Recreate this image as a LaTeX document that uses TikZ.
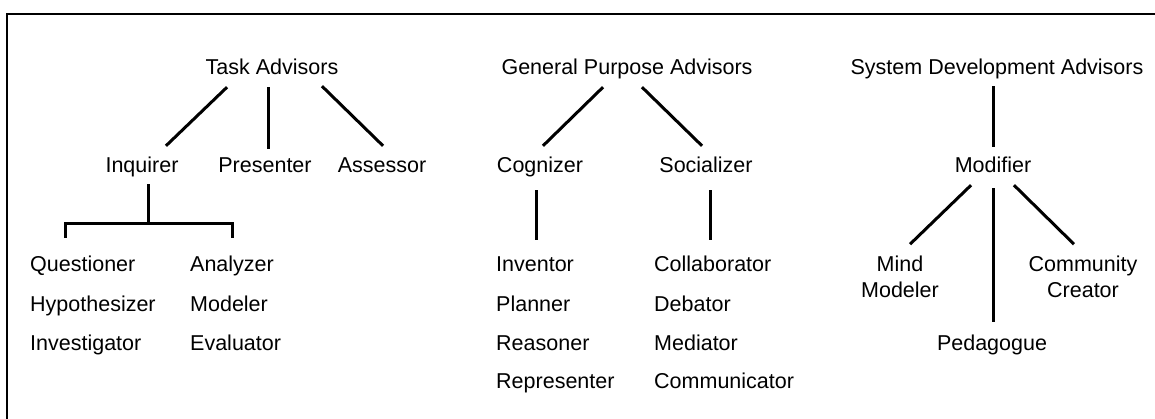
\documentclass[tikz,border=0pt]{standalone}
\usepackage{fontspec}
\setmainfont{Liberation Sans}
\begin{document}
\begin{tikzpicture}[x=1pt,y=-1pt,
  lbl/.style={inner sep=0pt, text height=15pt, text depth=5pt, font=\fontsize{21.5pt}{26pt}\selectfont},
  lbl2/.style={inner sep=0pt, align=center, font=\fontsize{21.5pt}{26pt}\selectfont},
  link/.style={line width=3pt},
  frame/.style={line width=2.2pt}]
\useasboundingbox (0,0) rectangle (1155,419);
\draw[frame] (7,421) -- (7,14) -- (1157,14);

% level 1
\node[lbl,anchor=base] (ta) at (272,75) {Task Advisors};
\node[lbl,anchor=base] (gpa) at (627,75) {General Purpose Advisors};
\node[lbl,anchor=base] (sda) at (997,75) {System Development Advisors};
% level 2
\node[lbl,anchor=base] (inq) at (142,173) {Inquirer};
\node[lbl,anchor=base] (pre) at (265,173) {Presenter};
\node[lbl,anchor=base] (ass) at (382,173) {Assessor};
\node[lbl,anchor=base] (cog) at (540,173) {Cognizer};
\node[lbl,anchor=base] (soc) at (706,173) {Socializer};
\node[lbl,anchor=base] (mod) at (993,173) {Modifier};
% lists
\node[lbl,anchor=base west] (q1) at (30,272) {Questioner};
\node[lbl,anchor=base west] (q2) at (30,311) {Hypothesizer};
\node[lbl,anchor=base west] (q3) at (30,350) {Investigator};
\node[lbl,anchor=base west] (an) at (190,272) {Analyzer};
\node[lbl,anchor=base west] (an2) at (190,311) {Modeler};
\node[lbl,anchor=base west] (an3) at (190,350) {Evaluator};
\node[lbl,anchor=base west] (inv) at (496,272) {Inventor};
\node[lbl,anchor=base west] (pla) at (496,311) {Planner};
\node[lbl,anchor=base west] (rea) at (496,350) {Reasoner};
\node[lbl,anchor=base west] (rep) at (496,388) {Representer};
\node[lbl,anchor=base west] (col) at (654,272) {Collaborator};
\node[lbl,anchor=base west] (deb) at (654,311) {Debator};
\node[lbl,anchor=base west] (med) at (654,350) {Mediator};
\node[lbl,anchor=base west] (com) at (654,388) {Communicator};
\node[lbl2,anchor=base] (mm) at (900,298) {Mind\\Modeler};
\node[lbl2,anchor=base] (cc) at (1083,298) {Community\\Creator};
\node[lbl,anchor=base] (ped) at (992,350) {Pedagogue};

% connectors: Task Advisors
\draw[link] ([xshift=-45pt,yshift=-7pt]ta.south) -- ([xshift=24pt,yshift=12pt]inq.north);
\draw[link] ([xshift=-4pt,yshift=-7pt]ta.south) -- ([xshift=3pt,yshift=9pt]pre.north);
\draw[link] ([xshift=50pt,yshift=-6pt]ta.south) -- ([xshift=1pt,yshift=12pt]ass.north);
\draw[link] ([xshift=6pt,yshift=-6pt]inq.south) -- ++(0,-40pt);
\draw[link] ([xshift=35pt,yshift=19pt]q1.north west) -- ++(0,14pt) -| ([xshift=42pt,yshift=19pt]an.north west);
% General Purpose
\draw[link] ([xshift=-24pt,yshift=-7pt]gpa.south) -- ([xshift=3pt,yshift=12pt]cog.north);
\draw[link] ([xshift=15pt,yshift=-7pt]gpa.south) -- ([xshift=-4pt,yshift=12pt]soc.north);
\draw[link] ([xshift=-4pt,yshift=-12pt]cog.south) -- ([xshift=40pt,yshift=17pt]inv.north west);
\draw[link] ([xshift=4pt,yshift=-12pt]soc.south) -- ([xshift=56pt,yshift=17pt]col.north west);
% System Development
\draw[link] ([xshift=-4pt,yshift=-6pt]sda.south) -- ([yshift=11pt]mod.north);
\draw[link] ([xshift=-22pt,yshift=-7pt]mod.south) -- ([xshift=10pt,yshift=12pt]mm.north);
\draw[link] ([yshift=-10pt]mod.south) -- ([xshift=1pt,yshift=13pt]ped.north);
\draw[link] ([xshift=21pt,yshift=-7pt]mod.south) -- ([xshift=-9pt,yshift=12pt]cc.north);
\end{tikzpicture}
\end{document}
